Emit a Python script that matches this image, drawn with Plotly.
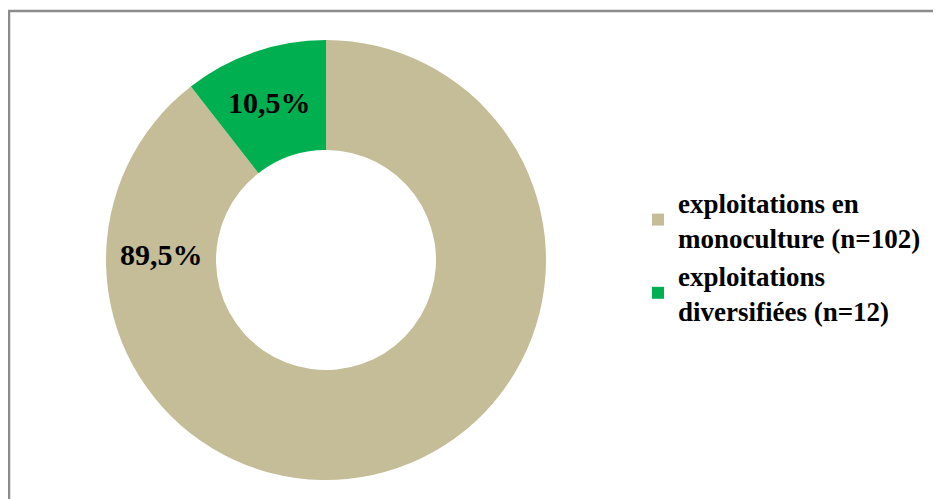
import plotly.graph_objects as go

categories = ["exploitations en<br>monoculture (n=102)", "exploitations<br>diversifiées (n=12)"]
counts = [102, 12]
pct_labels = ["89,5%", "10,5%"]
colors = ["#C4BD97", "#00B050"]

W, H = 941, 499
OFF = 8  # page body margin
cx, cy, R = 326 - OFF, 260 - OFF, 220

SERIF = "Liberation Serif, Times New Roman, serif"

fig = go.Figure()
fig.add_trace(go.Pie(
    labels=categories,
    values=counts,
    hole=0.5,
    sort=False,
    direction="clockwise",
    rotation=0,
    marker=dict(colors=colors, line=dict(width=0)),
    textinfo="none",
    hoverinfo="label+percent",
    domain=dict(x=[(cx - R) / W, (cx + R) / W], y=[1 - (cy + R) / H, 1 - (cy - R) / H]),
))

font_lbl = dict(family=SERIF, size=30, color="#000000", weight="bold")
label_pos = [(161 - OFF, 255 - OFF), (269 - OFF, 103 - OFF)]
for txt, (px, py) in zip(pct_labels, label_pos):
    fig.add_annotation(x=px / W, y=1 - py / H, xref="paper", yref="paper",
                       text=txt, showarrow=False, font=font_lbl,
                       xanchor="center", yanchor="middle")

fig.add_shape(type="rect", xref="paper", yref="paper",
              x0=(9 - OFF) / W, x1=1.05, y0=-0.05, y1=1 - (11 - OFF) / H,
              line=dict(color="#8C8C8C", width=2.5), fillcolor="rgba(0,0,0,0)", layer="below")

fig.update_layout(
    width=W, height=H,
    margin=dict(l=0, r=0, t=0, b=0),
    paper_bgcolor="white",
    plot_bgcolor="white",
    font=dict(family=SERIF),
    showlegend=True,
    legend=dict(
        x=630 / W, y=1 - 170 / H, xanchor="left", yanchor="top",
        font=dict(family=SERIF, size=27, color="#000000", weight="bold"),
        bgcolor="rgba(0,0,0,0)",
        tracegroupgap=0,
    ),
)

fig.write_html("out.html")
